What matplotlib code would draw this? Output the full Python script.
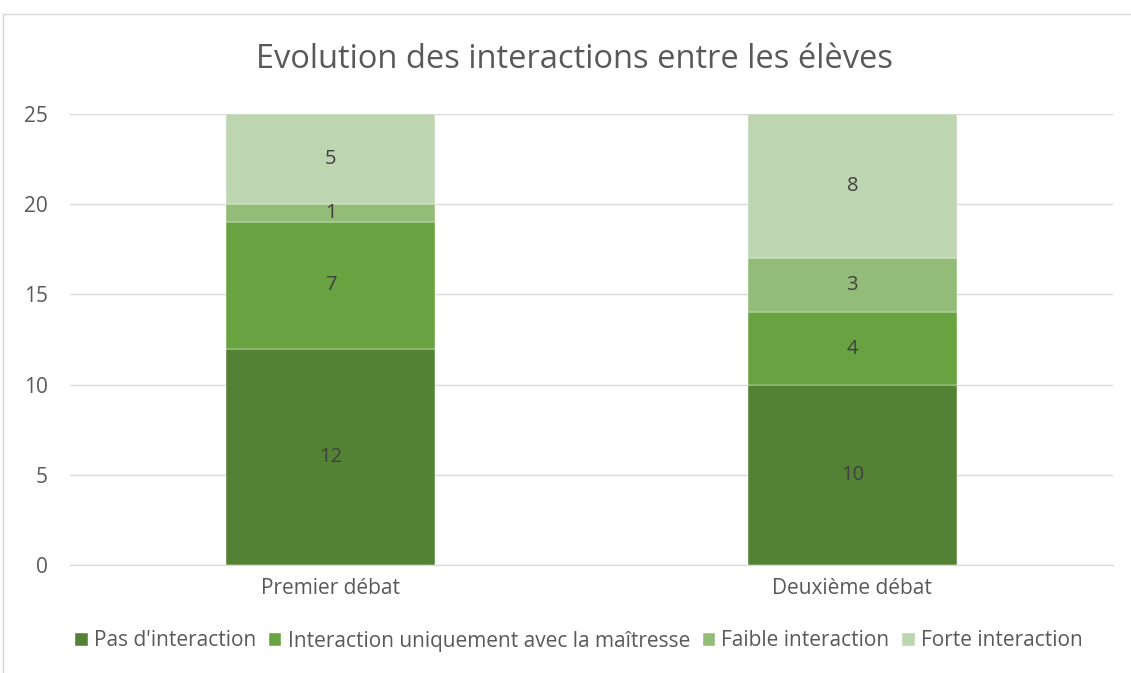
import numpy as np
import matplotlib.pyplot as plt
from matplotlib.lines import Line2D

# data
categories = ['Premier débat', 'Deuxième débat']
series_names = ["Pas d'interaction", 'Interaction uniquement avec la maîtresse',
                'Faible interaction', 'Forte interaction']
pas_interaction = [12, 10]
avec_maitresse = [7, 4]
faible = [1, 3]
forte = [5, 8]
colors = ['#548235', '#69A241', '#93BC78', '#BED5B1']

plt.rcParams['font.family'] = ['Open Sans', 'DejaVu Sans']
txt = '#595959'

fig = plt.figure(figsize=(11.31, 6.73), dpi=100)
ax = fig.add_axes([70 / 1131, 1 - 565 / 673, (1113 - 70) / 1131, (565 - 114) / 673])

x = np.arange(len(categories))
bottom = np.zeros(len(categories))
for vals, name, c in zip([pas_interaction, avec_maitresse, faible, forte], series_names, colors):
    ax.bar(x, vals, 0.4, bottom=bottom, color=c, label=name, zorder=2,
           edgecolor='white', linewidth=0.3)
    for xi, b, v in zip(x, bottom, vals):
        ax.text(xi, b + v / 2, str(v), ha='center', va='center', fontsize=14.5, color='#404040', zorder=3)
    bottom += np.array(vals)

ax.set_xlim(-0.5, 1.5)
ax.set_ylim(0, 25)
ax.set_yticks(range(0, 26, 5))
ax.set_xticks(x)
ax.set_xticklabels(categories)
ax.yaxis.grid(True, color='#D9D9D9', linewidth=1, zorder=0)
ax.set_axisbelow(True)
for s in ['top', 'right', 'left']:
    ax.spines[s].set_visible(False)
ax.spines['bottom'].set_color('#D9D9D9')
ax.tick_params(length=0, colors=txt, labelsize=15)
ax.tick_params(axis='y', pad=16)
ax.tick_params(axis='x', pad=9)

fig.text(575 / 1131, 1 - 60 / 673, 'Evolution des interactions entre les élèves',
         ha='center', va='center', fontsize=23.5, color=txt)

fig.legend(loc='center', bbox_to_anchor=(579 / 1131, 1 - 641 / 673), ncol=4,
           frameon=False, fontsize=15, handlelength=0.6, handleheight=0.6,
           handletextpad=0.3, columnspacing=0.6, labelcolor=txt)

# chart frame
fig.add_artist(Line2D([3 / 1131, 1], [1 - 14 / 673, 1 - 14 / 673], color='#D9D9D9', lw=1))
fig.add_artist(Line2D([3 / 1131, 3 / 1131], [0, 1 - 14 / 673], color='#D9D9D9', lw=1))

fig.savefig('out.png', dpi=100)
